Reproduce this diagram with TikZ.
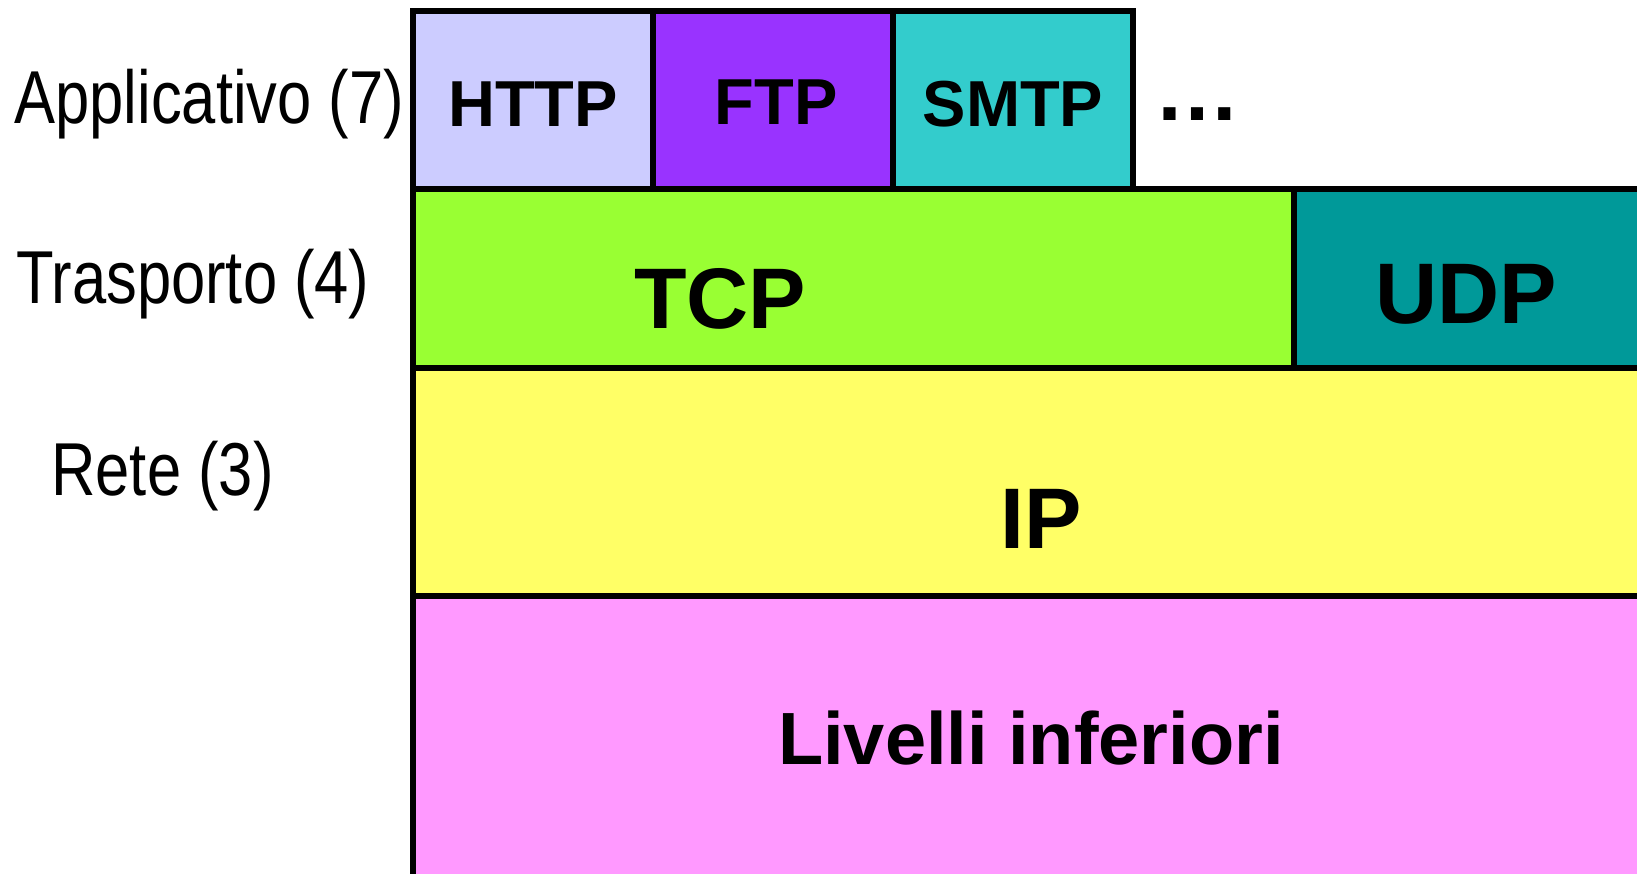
\documentclass[tikz,border=0pt]{standalone}
\usepackage{fontspec}
\setmainfont{Liberation Sans}
\newfontfamily\narrowfont{Liberation Sans}[FakeStretch=0.82]
\definecolor{httpc}{HTML}{CCCCFF}
\definecolor{ftpc}{HTML}{9933FF}
\definecolor{smtpc}{HTML}{33CCCC}
\definecolor{tcpc}{HTML}{99FF33}
\definecolor{udpc}{HTML}{009999}
\definecolor{ipc}{HTML}{FFFF66}
\definecolor{lowc}{HTML}{FF99FF}
\tikzset{
  cell/.style={draw=black, line width=3pt},
  layerlabel/.style={anchor=base west, inner sep=0pt, font=\narrowfont\fontsize{37.5}{40}\selectfont},
  smalltxt/.style={anchor=base, inner sep=0pt, font=\bfseries\fontsize{32.5}{36}\selectfont},
  bigtxt/.style={anchor=base, inner sep=0pt, font=\bfseries\fontsize{43}{46}\selectfont},
  midtxt/.style={anchor=base, inner sep=0pt, font=\bfseries\fontsize{37}{40}\selectfont}
}
\begin{document}
\begin{tikzpicture}[x=0.5pt,y=-0.5pt]
\useasboundingbox (0,0) rectangle (1637,873);
\begin{scope}
\clip (0,0) rectangle (1637,873);
\path[cell, fill=lowc] (413,596) rectangle (1700,950);
\path[cell, fill=ipc] (413,367.5) rectangle (1700,596);
\path[cell, fill=tcpc] (413,189) rectangle (1294,367.5);
\path[cell, fill=udpc] (1294,189) rectangle (1700,367.5);
\path[cell, fill=httpc] (413,10.5) rectangle (653,189);
\path[cell, fill=ftpc] (653,10.5) rectangle (893,189);
\path[cell, fill=smtpc] (893,10.5) rectangle (1133,189);
\end{scope}
\node[smalltxt] (http) at (533,126) {HTTP};
\node[smalltxt] (ftp) at (776,124) {FTP};
\node[smalltxt] (smtp) at (1013,126) {SMTP};
\node[bigtxt] (dots) at (1197,120) {…};
\node[bigtxt] (tcp) at (720,328) {TCP};
\node[bigtxt] (udp) at (1466,323) {UDP};
\node[bigtxt] (ip) at (1041,548) {IP};
\node[midtxt] (low) at (1031,764) {Livelli inferiori};
\node[layerlabel] (l7) at (14,123) {Applicativo (7)};
\node[layerlabel] (l4) at (16,303) {Trasporto (4)};
\node[layerlabel] (l3) at (51,495) {Rete (3)};
\end{tikzpicture}
\end{document}
